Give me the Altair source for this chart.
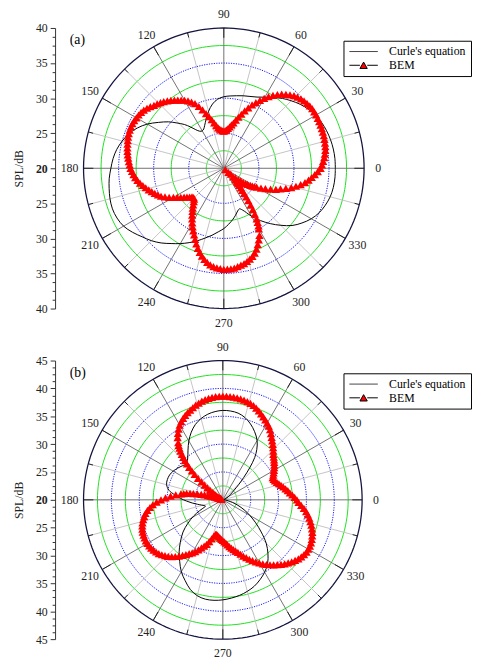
import altair as alt
import pandas as pd

FONT = "Liberation Serif, Times New Roman, serif"

# ---------------- panel (a) ----------------
A_BASE, A_TOP = 20, 40
A_CURLE_ANG = [0, 5, 10, 15, 20, 25, 30, 35, 40, 45,
               50, 55, 60, 65, 70, 75, 80, 85, 90, 95,
               100, 105, 110, 114, 117, 120, 123, 126, 129, 132,
               136, 140, 145, 150, 155, 160, 165, 170, 175, 180,
               185, 190, 195, 200, 205, 210, 215, 220, 225, 230,
               235, 240, 245, 250, 255, 260, 265, 270, 275, 280,
               284, 288, 291, 294, 297, 300, 305, 310, 315, 320,
               325, 330, 335, 340, 345, 350, 355, 360]
A_CURLE_SPL = [35.9, 35.9, 35.85, 35.75, 35.6, 35.4, 35.1, 34.7, 34.2, 33.6,
               33.0, 32.3, 31.7, 31.2, 30.9, 30.7, 30.5, 30.35, 30.2, 29.9,
               29.3, 28.4, 27.4, 26.7, 26.3, 26.15, 26.3, 26.8, 27.6, 28.4,
               29.3, 30.3, 31.4, 32.6, 33.6, 34.4, 35.0, 35.5, 35.85, 36.1,
               36.4, 36.6, 36.8, 36.9, 36.8, 36.5, 35.9, 35.2, 34.6, 33.9,
               33.1, 32.4, 31.7, 31.0, 30.3, 29.7, 29.1, 28.6, 28.0, 27.4,
               26.9, 26.4, 26.2, 26.5, 27.1, 27.9, 29.1, 30.3, 31.5, 32.7,
               33.6, 34.4, 35.0, 35.4, 35.7, 35.85, 35.9, 35.9]

A_BEM_ANG = list(range(0, 300, 2)) + list(range(300, 331, 1)) + list(range(332, 360, 2))
A_BEM_SPL = [
    33.8, 34.0, 34.2, 34.4, 34.55, 34.7, 34.8, 34.87, 34.93, 35.0,        # 0-18
    35.03, 35.07, 35.1, 35.13, 35.17, 35.2, 35.2, 35.2, 35.15, 35.05,     # 20-38
    34.93, 34.8, 34.6, 34.4, 34.1, 33.77, 33.4, 33.0, 32.53, 32.03,       # 40-58
    31.5, 30.97, 30.43, 29.9, 29.3, 28.7, 28.1, 27.57, 27.07, 26.6,       # 60-78
    26.27, 25.97, 25.7, 25.5, 25.37, 25.3, 25.33, 25.47, 25.6, 25.83,     # 80-98
    26.17, 26.6, 27.13, 27.67, 28.2, 28.87, 29.5, 30.1, 30.5, 30.87,      # 100-118
    31.2, 31.47, 31.73, 32.0, 32.27, 32.53, 32.8, 33.0, 33.2, 33.4,       # 120-138
    33.67, 33.9, 34.1, 34.23, 34.33, 34.4, 34.47, 34.5, 34.5, 34.47,      # 140-158
    34.42, 34.35, 34.25, 34.15, 34.05, 33.95, 33.83, 33.7, 33.57, 33.43,  # 160-178
    33.3, 33.1, 32.9, 32.7, 32.43, 32.13, 31.8, 31.47, 31.13, 30.8,       # 180-198
    30.47, 30.13, 29.8, 29.33, 28.83, 28.3, 27.83, 27.4, 27.0, 26.67,     # 200-218
    26.37, 26.1, 26.0, 26.1, 26.4, 26.8, 27.2, 27.6, 28.07, 28.53,        # 220-238
    29.0, 29.47, 29.93, 30.4, 30.93, 31.47, 32.0, 32.47, 32.9, 33.3,      # 240-258
    33.63, 33.9, 34.1, 34.23, 34.33, 34.4, 34.4, 34.37, 34.3, 34.17,      # 260-278
    34.03, 33.9, 33.7, 33.47, 33.2, 32.87, 32.43, 31.9, 31.37, 30.83,     # 280-298
    30.0, 29.6, 29.1, 28.6, 27.9, 27.2, 26.5, 25.8, 25.2, 24.6,           # 300-309
    24.1, 23.7, 23.3, 23.0, 22.8, 22.6, 22.3, 21.8, 20.9, 20.3,           # 310-319
    21.3, 22.1, 22.6, 23.0, 23.4, 23.8, 24.1, 24.5, 24.8, 25.1,           # 320-329
    25.4,                                                                 # 330
    26.0, 26.6, 27.3, 28.0, 28.6, 29.3, 30.0, 30.6, 31.2, 31.75,          # 332-350
    32.2, 32.6, 33.0, 33.4]                                               # 352-358

# ---------------- panel (b) ----------------
B_BASE, B_TOP = 20, 45
B_CURLE_ANG = [0, 5, 10, 15, 20, 25, 30, 35, 40, 44,
               47, 50, 53, 56, 60, 65, 70, 75, 80, 85,
               90, 95, 100, 105, 110, 115, 120, 125, 130, 134,
               137, 140, 145, 150, 155, 160, 165, 170, 174, 178,
               182, 186, 190, 194, 197, 200, 202, 205, 209, 214,
               219, 225, 230, 235, 240, 245, 250, 255, 260, 265,
               270, 275, 280, 285, 290, 295, 300, 305, 310, 315,
               320, 325, 330, 335, 340, 345, 350, 355, 360]
B_CURLE_SPL = [20.2, 20.1, 20.1, 20.2, 20.4, 20.7, 21.1, 21.6, 22.5, 24.0,
               25.5, 27.5, 29.5, 30.9, 32.3, 33.5, 34.5, 35.3, 35.8, 36.0,
               36.05, 35.9, 35.6, 35.1, 34.4, 33.4, 32.2, 30.9, 29.8, 29.3,
               29.25, 29.5, 29.9, 30.3, 30.55, 30.6, 30.45, 29.8, 28.7, 27.6,
               26.5, 25.5, 24.6, 23.9, 23.5, 23.3, 23.6, 24.6, 26.0, 27.6,
               29.2, 30.8, 32.2, 33.5, 34.9, 36.0, 37.1, 37.8, 38.1, 38.1,
               37.95, 37.7, 37.4, 37.0, 36.5, 35.8, 35.0, 34.0, 32.6, 31.0,
               29.0, 27.2, 25.6, 24.2, 22.9, 21.8, 21.0, 20.5, 20.2]

B_BEM_ANG = list(range(0, 129, 2)) + list(range(129, 173, 1)) + list(range(174, 360, 2))
B_BEM_SPL = [
    33.3, 32.9, 32.5, 32.1, 31.77, 31.43, 31.1, 30.77, 30.47, 30.2,       # 0-18
    29.95, 29.83, 29.8, 30.07, 30.33, 30.6, 30.87, 31.13, 31.4, 31.67,    # 20-38
    31.93, 32.2, 32.6, 33.0, 33.4, 33.8, 34.23, 34.7, 35.17, 35.57,       # 40-58
    35.9, 36.23, 36.57, 36.9, 37.23, 37.53, 37.8, 38.0, 38.17, 38.3,      # 60-78
    38.4, 38.48, 38.55, 38.58, 38.6, 38.6, 38.6, 38.57, 38.5, 38.4,       # 80-98
    38.27, 38.1, 37.9, 37.67, 37.4, 37.13, 36.87, 36.6, 36.27, 35.9,      # 100-118
    35.5, 34.97, 34.4, 33.8, 33.0,                                        # 120-128
    32.6,                                                                 # 129
    32.1, 31.6, 31.0, 30.4, 29.8, 29.1, 28.4, 27.6, 26.8, 25.9,           # 130-139
    25.0, 24.2, 23.5, 22.9, 22.4, 22.0, 21.6, 21.3, 21.0, 20.8,           # 140-149
    20.6, 20.5, 20.4, 20.3, 20.3, 20.35, 20.4, 20.5, 20.7, 20.9,          # 150-159
    21.2, 21.5, 21.8, 22.3, 22.8, 23.4, 24.0, 24.7, 25.4, 26.0,           # 160-169
    26.6, 27.1, 27.6,                                                     # 170-172
    28.5, 29.4, 30.3, 31.1, 31.9, 32.6, 33.15, 33.67, 34.1, 34.43,        # 174-192
    34.73, 35.0, 35.2, 35.37, 35.5, 35.57, 35.62, 35.65, 35.62, 35.57,    # 194-212
    35.5, 35.37, 35.2, 35.0, 34.73, 34.43, 34.1, 33.7, 33.27, 32.8,       # 214-232
    32.3, 31.85, 31.4, 31.0, 30.55, 30.0, 29.45, 28.95, 28.5, 27.9,       # 234-252
    27.3, 26.7, 26.35, 26.3, 26.5, 26.7, 26.9, 27.1, 27.3, 27.53,         # 254-272
    27.8, 28.13, 28.47, 28.8, 29.13, 29.47, 29.8, 30.27, 30.73, 31.2,     # 274-292
    31.67, 32.13, 32.6, 33.07, 33.53, 34.0, 34.4, 34.8, 35.2, 35.6,       # 294-312
    35.97, 36.3, 36.63, 36.93, 37.2, 37.4, 37.57, 37.7, 37.73, 37.7,      # 314-332
    37.6, 37.47, 37.3, 37.1, 36.83, 36.53, 36.2, 35.87, 35.5, 35.1,       # 334-352
    34.63, 34.1, 33.6]                                                    # 354-358

assert len(A_CURLE_ANG) == len(A_CURLE_SPL)
assert len(A_BEM_ANG) == len(A_BEM_SPL), (len(A_BEM_ANG), len(A_BEM_SPL))
assert len(B_CURLE_ANG) == len(B_CURLE_SPL)
assert len(B_BEM_ANG) == len(B_BEM_SPL), (len(B_BEM_ANG), len(B_BEM_SPL))

ANGLE_LABELS = list(range(0, 360, 30))
SPOKE_ANGLES = list(range(0, 360, 15))
GRID_STEP = 2.5
MINOR_TICK = 1.25
SERIES = ["Curle's equation", "BEM"]
SYMBOLS = ["M-2.9,0H2.9",
           "M-2.9,0H-0.75M0.75,0H2.9M-0.75,0.65L0,-0.65L0.75,0.65Z"]


def panel(tag, base, top, c_ang, c_spl, b_ang, b_spl, size):
    R = top - base
    px_r = size / 2
    xs = alt.Scale(domain=[-R, R], nice=False, zero=False)
    ys = alt.Scale(domain=[-R, R], nice=False, zero=False)
    tick_vals = [-R + MINOR_TICK * i for i in range(int(round(2 * R / MINOR_TICK)) + 1)]
    yaxis = alt.Axis(
        values=tick_vals,
        labelExpr=f"abs(datum.value) % 5 === 0 ? format(abs(datum.value) + {base}, 'd') : ''",
        tickSize={"condition": {"test": "abs(datum.value) % 5 === 0", "value": 5}, "value": 3},
        labelFontWeight={"condition": {"test": "datum.value === 0", "value": "bold"}, "value": "normal"},
        offset=29, domainColor="#333", tickColor="#333", domainWidth=1, tickWidth=1,
        labelFont=FONT, labelFontSize=12, labelColor="#222", labelPadding=3,
        labelOverlap=False, grid=False,
        title="SPL/dB", titleFont=FONT, titleFontSize=12, titleFontWeight="normal",
        titleColor="#222", titlePadding=10)

    def X(f):
        return alt.X(f, scale=xs, axis=None)

    def Y(f):
        return alt.Y(f, scale=ys, axis=yaxis)

    pol = dict(px=f"(datum.spl - {base}) * cos(datum.ang * PI / 180)",
               py=f"(datum.spl - {base}) * sin(datum.ang * PI / 180)")

    # grid rings
    rings = [base + GRID_STEP * k for k in range(1, int(round(R / GRID_STEP)))]
    rows = []
    for rv in rings:
        kind = "green" if abs((rv - base) % 5 - 2.5) < 1e-9 else "blue"
        for a in range(0, 361, 2):
            rows.append({"ring": rv, "ang": a, "spl": rv, "kind": kind})
    for a in range(0, 361, 2):
        rows.append({"ring": top, "ang": a, "spl": top, "kind": "outer"})
    ring_df = pd.DataFrame(rows)
    ring_base = alt.Chart(ring_df).transform_calculate(**pol)
    enc = dict(x=X("px:Q"), y=Y("py:Q"), detail="ring:N", order="ang:Q")
    green = ring_base.transform_filter("datum.kind === 'green'").mark_line(
        color="#1ee01e", strokeWidth=1).encode(**enc)
    blue = ring_base.transform_filter("datum.kind === 'blue'").mark_line(
        color="#1010ff", strokeWidth=1, strokeDash=[1.2, 1.3]).encode(**enc)
    outer = ring_base.transform_filter("datum.kind === 'outer'").mark_line(
        color="#141440", strokeWidth=1.3).encode(**enc)

    # spokes
    sp_df = pd.DataFrame({"ang": SPOKE_ANGLES})
    sp = alt.Chart(sp_df).transform_calculate(
        major="datum.ang % 30 === 0",
        x0="0", y0="0",
        x1=f"{R} * cos(datum.ang * PI / 180)",
        y1=f"{R} * sin(datum.ang * PI / 180)",
        tin=f"datum.ang % 30 === 0 ? {R * (1 - 10 / px_r)} : {R * (1 - 5 / px_r)}",
        tx="datum.tin * cos(datum.ang * PI / 180)",
        ty="datum.tin * sin(datum.ang * PI / 180)")
    sp_enc = dict(x=X("x0:Q"), y=Y("y0:Q"), x2="x1:Q", y2="y1:Q")
    sp_minor = sp.transform_filter("!datum.major").mark_rule(
        color="#c4c4c4", strokeWidth=1).encode(**sp_enc)
    sp_major = sp.transform_filter("datum.major").mark_rule(
        color="#707070", strokeWidth=1).encode(**sp_enc)
    sp_ticks = sp.mark_rule(color="#222", strokeWidth=1).encode(
        x=X("tx:Q"), y=Y("ty:Q"), x2="x1:Q", y2="y1:Q")

    # angle labels
    lab_df = pd.DataFrame({"ang": ANGLE_LABELS})
    labels = alt.Chart(lab_df).transform_calculate(
        lx=f"{R * 1.1} * cos(datum.ang * PI / 180)",
        ly=f"{R * 1.1} * sin(datum.ang * PI / 180)",
        txt="format(datum.ang, 'd')").mark_text(
        font=FONT, fontSize=12, color="#222", align="center", baseline="middle").encode(
        x=X("lx:Q"), y=Y("ly:Q"), text="txt:N")

    # data
    curle = alt.Chart(pd.DataFrame({"ang": c_ang, "spl": c_spl})).transform_calculate(
        **pol).mark_line(color="black", strokeWidth=1, interpolate="catmull-rom").encode(
        x=X("px:Q"), y=Y("py:Q"), order="ang:Q")
    bem = alt.Chart(pd.DataFrame({"ang": b_ang, "spl": b_spl})).transform_calculate(
        **pol).mark_point(shape="triangle-up", filled=True, color="#ff0000", size=72,
                          opacity=1).encode(x=X("px:Q"), y=Y("py:Q"))

    # legend
    leg = alt.Legend(orient="none", legendX=265, legendY=13, title=None,
                     strokeColor="black", fillColor="white", padding=5,
                     labelFont=FONT, labelFontSize=12, labelColor="black",
                     symbolSize=100, symbolOffset=9.5, labelOffset=20,
                     rowPadding=2, symbolStrokeWidth=1, labelLimit=300)
    legend_layer = alt.Chart(pd.DataFrame({"series": SERIES})).transform_filter(
        "false").mark_point(filled=True, fill="#ff0000", strokeWidth=1, opacity=1).encode(
        shape=alt.Shape("series:N", scale=alt.Scale(domain=SERIES, range=SYMBOLS), legend=leg),
        stroke=alt.Stroke("series:N", scale=alt.Scale(domain=SERIES, range=["#444", "#000"]),
                          legend=leg))

    return alt.layer(green, blue, sp_minor, sp_major, sp_ticks, outer, curle, bem,
                     labels, legend_layer).properties(
        width=size, height=size,
        title=alt.TitleParams(tag, anchor="start", frame="group", dx=-14, dy=40, offset=0,
                              font=FONT, fontSize=14, fontWeight="normal", color="black"))


pa = panel("(a)", A_BASE, A_TOP, A_CURLE_ANG, A_CURLE_SPL, A_BEM_ANG, A_BEM_SPL, 286)
pb = panel("(b)", B_BASE, B_TOP, B_CURLE_ANG, B_CURLE_SPL, B_BEM_ANG, B_BEM_SPL, 284)

chart = alt.vconcat(pa, pb, spacing=11).resolve_scale(
    shape="independent", stroke="independent").resolve_legend(
    shape="independent", stroke="independent").properties(
    padding={"left": 5, "top": -7, "right": 0, "bottom": 0}).configure_view(stroke=None)

chart.save("out.html", embed_options={"renderer": "svg", "actions": False})
